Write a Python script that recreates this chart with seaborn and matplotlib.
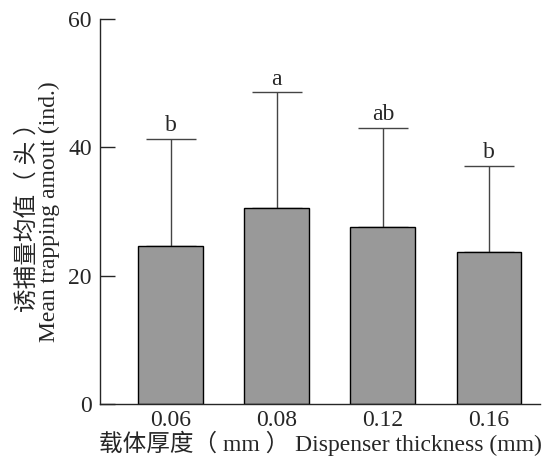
import pandas as pd
import matplotlib
matplotlib.use('Agg')
import matplotlib.pyplot as plt
import seaborn as sns

# dados
espessura = ['0.06', '0.08', '0.12', '0.16']
media = [24.6, 30.5, 27.6, 23.7]
desvio = [16.7, 18.1, 15.4, 13.4]
letras = ['b', 'a', 'ab', 'b']

df = pd.DataFrame({'Espessura': espessura, 'Media': media, 'Desvio': desvio})

sns.set_style('ticks')
plt.rcParams['font.family'] = ['Liberation Serif', 'Noto Sans CJK SC']
plt.rcParams['axes.unicode_minus'] = False

fig = plt.figure(figsize=(5.47, 4.62), dpi=100)
ax = fig.add_axes([0.183, 0.1255, 0.804, 0.8335])

sns.barplot(data=df, x='Espessura', y='Media', color='#999999', edgecolor='black',
            linewidth=1.0, width=0.61, errorbar=None, saturation=1, ax=ax, zorder=2)

# barras de erro só para cima
xs = range(len(df))
ax.errorbar(xs, df['Media'], yerr=[[0] * len(df), df['Desvio']], fmt='none',
            ecolor='#444444', elinewidth=1.0, capsize=18, capthick=1.0, zorder=1)

for x, m, d, l in zip(xs, df['Media'], df['Desvio'], letras):
    ax.text(x, m + d + 0.4, l, ha='center', va='bottom', fontsize=17)

ax.set_ylim(0, 60)
ax.set_yticks([0, 20, 40, 60])
ax.set_xlim(-0.665, 3.48)
ax.tick_params(axis='y', direction='in', length=11, width=1, labelsize=17, pad=6)
ax.tick_params(axis='x', direction='in', length=5, width=1, labelsize=17, pad=4)
sns.despine(ax=ax)
for s in ['left', 'bottom']:
    ax.spines[s].set_linewidth(1.0)

ax.set_ylabel('诱捕量均值（ 头 ）\nMean trapping amout (ind.)', fontsize=17, labelpad=6,
              linespacing=1.0)
ax.set_xlabel('载体厚度（ mm ） Dispenser thickness (mm)', fontsize=17, labelpad=0)

fig.savefig('out.png', dpi=100)
